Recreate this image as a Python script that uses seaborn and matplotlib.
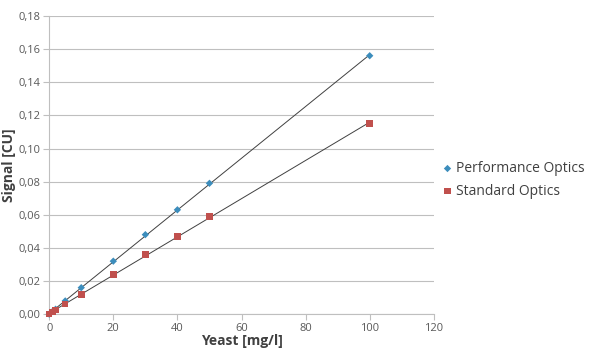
import matplotlib
matplotlib.use("Agg")
import matplotlib.pyplot as plt
import matplotlib.ticker as mticker
import numpy as np
import pandas as pd
import seaborn as sns

yeast = [0, 1, 2, 5, 10, 20, 30, 40, 50, 100]
perf_signal = [0.0, 0.0016, 0.003, 0.008, 0.016, 0.032, 0.048, 0.063, 0.079, 0.156]
std_signal = [0.0, 0.0012, 0.0025, 0.006, 0.012, 0.024, 0.036, 0.047, 0.059, 0.115]

blue = "#3C8DBC"
red = "#C0504D"
grid = "#BFBFBF"

sns.set_theme(style="white")
plt.rcParams["font.family"] = ["Open Sans", "DejaVu Sans"]

fig = plt.figure(figsize=(6, 3.55), dpi=100)
ax = fig.add_axes([0.082, 0.115, 0.641, 0.84])

df = pd.DataFrame({"Yeast": yeast, "Perf": perf_signal, "Std": std_signal})

# trend lines
sns.regplot(data=df, x="Yeast", y="Perf", scatter=False, ci=None, ax=ax,
            line_kws=dict(color="#404040", lw=0.7))
sns.regplot(data=df, x="Yeast", y="Std", scatter=False, ci=None, ax=ax,
            line_kws=dict(color="#404040", lw=0.7))

sns.scatterplot(data=df, x="Yeast", y="Perf", ax=ax, marker="D", s=14,
                color=blue, edgecolor="none", label="Performance Optics",
                zorder=3, clip_on=False)
sns.scatterplot(data=df, x="Yeast", y="Std", ax=ax, marker="s", s=22,
                color=red, edgecolor="none", label="Standard Optics",
                zorder=3, clip_on=False)

ax.set_xlim(0, 120)
ax.set_ylim(0, 0.18)
ax.set_xticks(range(0, 121, 20))
ax.set_yticks(np.arange(0, 0.181, 0.02))
ax.yaxis.set_major_formatter(mticker.FuncFormatter(lambda v, p: f"{v:.2f}".replace(".", ",")))
ax.grid(axis="y", color=grid, lw=0.8)
ax.set_axisbelow(True)

for s in ["top", "right"]:
    ax.spines[s].set_visible(False)
for s in ["left", "bottom"]:
    ax.spines[s].set_color(grid)
    ax.spines[s].set_linewidth(0.8)

ax.tick_params(axis="both", labelsize=8, colors="#595959", length=4, width=0.8,
               color=grid, direction="out", bottom=True, left=True, pad=2)

ax.set_xlabel("Yeast [mg/l]", fontsize=10, fontweight="bold", color="#404040", labelpad=0)
ax.set_ylabel("Signal [CU]", fontsize=10, fontweight="bold", color="#404040", labelpad=2)

leg = ax.legend(loc="center left", bbox_to_anchor=(0.985, 0.45), frameon=False,
                fontsize=10, handletextpad=0.1, labelspacing=0.55, handlelength=1.0,
                markerscale=1.0)
for t in leg.get_texts():
    t.set_color("#404040")

fig.savefig("out.png", dpi=100)
